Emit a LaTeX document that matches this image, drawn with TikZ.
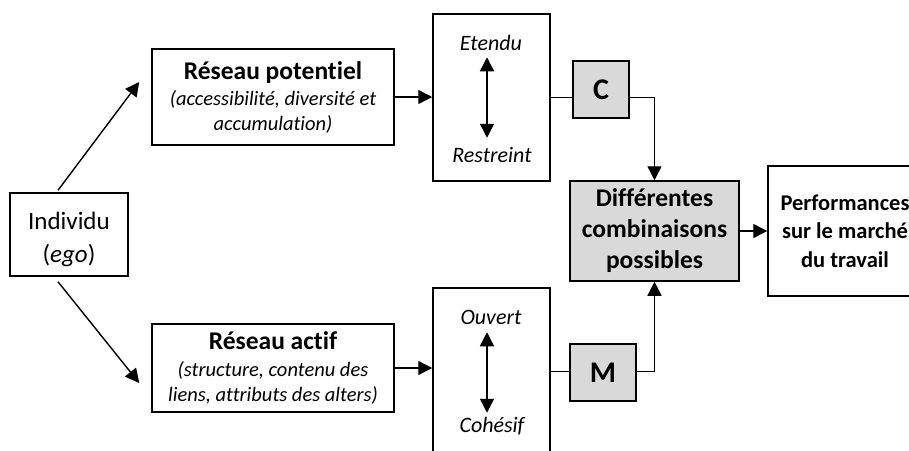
\documentclass[tikz,border=0pt]{standalone}
\usepackage{fontspec}
\setmainfont[RawFeature=-liga]{Carlito}
\usetikzlibrary{arrows.meta,calc}
\definecolor{boxgray}{HTML}{D9D9D9}
\begin{document}
\begin{tikzpicture}[x=1pt,y=-1pt,
  box/.style={draw, line width=1.5pt, inner sep=0pt, align=center},
  gbox/.style={box, fill=boxgray},
  thickbox/.style={gbox, line width=2.4pt},
  tip/.tip={Triangle[length=14pt,width=14pt]},
  arr/.style={line width=1.4pt, -tip},
  dbl/.style={line width=1.4pt, tip-tip},
  conn/.style={line width=1.4pt},
  lbl/.style={inner sep=0pt, anchor=base, font=\fontsize{22}{26}\selectfont\itshape}]
\useasboundingbox (0,0) rectangle (909,450);

% nodes
\node[box, minimum width=118pt, minimum height=83pt, font=\fontsize{25}{33}\selectfont] (ind) at (69,234.5) {\rule{0pt}{28pt}Individu\\(\textit{ego})};

\node[box, minimum width=242pt, minimum height=96pt, font=\fontsize{20.5}{25}\selectfont\itshape] (rp) at (273,97)
  {{\fontsize{25.5}{30}\selectfont\bfseries\upshape Réseau potentiel}\\[1pt](accessibilité,\ diversité\ et\\accumulation)};

\node[box, minimum width=242pt, minimum height=88pt, font=\fontsize{20.5}{25}\selectfont\itshape] (ra) at (273,368)
  {{\fontsize{25.5}{30}\selectfont\bfseries\upshape Réseau actif}\\[2pt](structure, contenu des\\liens, attributs des alters)};

\node[box, minimum width=117pt, minimum height=167pt] (et) at (491.5,97.5) {};
\node[lbl] (etT) at (491,50) {Etendu};
\node[lbl] (etB) at (492,162) {Restreint};

\node[box, minimum width=117pt, minimum height=167pt] (ov) at (491.5,371.5) {};
\node[lbl] (ovT) at (491,324) {Ouvert};
\node[lbl] (ovB) at (492,432) {Cohésif};

\node[thickbox, minimum width=56pt, minimum height=57pt, font=\fontsize{30}{33}\selectfont\bfseries] (c) at (601,89.5) {C};
\node[thickbox, minimum width=66pt, minimum height=57pt, font=\fontsize{30}{33}\selectfont\bfseries] (m) at (603,372.5) {M};

\node[gbox, minimum width=169pt, minimum height=100pt, font=\fontsize{25.5}{31}\selectfont\bfseries] (dc) at (654.5,231)
  {Différentes\\combinaisons\\possibles};

\node[box, minimum width=154pt, minimum height=130pt, font=\fontsize{22.5}{28.5}\selectfont\bfseries] (perf) at (845,231)
  {Performances\\sur le marché\\du travail};

% connectors
\coordinate (i1) at ($(ind.north)+(-11,-2)$);
\coordinate (i2) at ($(rp.west)+(-12,-15)$);
\coordinate (i3) at ($(ind.south)+(-11,5)$);
\coordinate (i4) at ($(ra.west)+(-12,15)$);
\draw[arr] (i1) -- (i2);
\draw[arr] (i3) -- (i4);

\draw[arr] (rp.east) -- (rp.east -| et.west);
\draw[arr] (ra.east) -- (ra.east -| ov.west);

\draw[dbl] ($(et.north)+(-4.5,44)$) -- ($(et.south)+(-4.5,-44)$);
\draw[dbl] ($(ov.north)+(-4.5,45)$) -- ($(ov.south)+(-4.5,-43)$);

\draw[conn] (et.east) -- (et.east -| c.west);
\draw[arr] (c.east |- et.east) -| (dc.north);
\draw[conn] (ov.east) -- (ov.east -| m.west);
\draw[arr] (m.east |- ov.east) -| (dc.south);
\draw[arr] (dc.east) -- (dc.east -| perf.west);
\end{tikzpicture}
\end{document}
